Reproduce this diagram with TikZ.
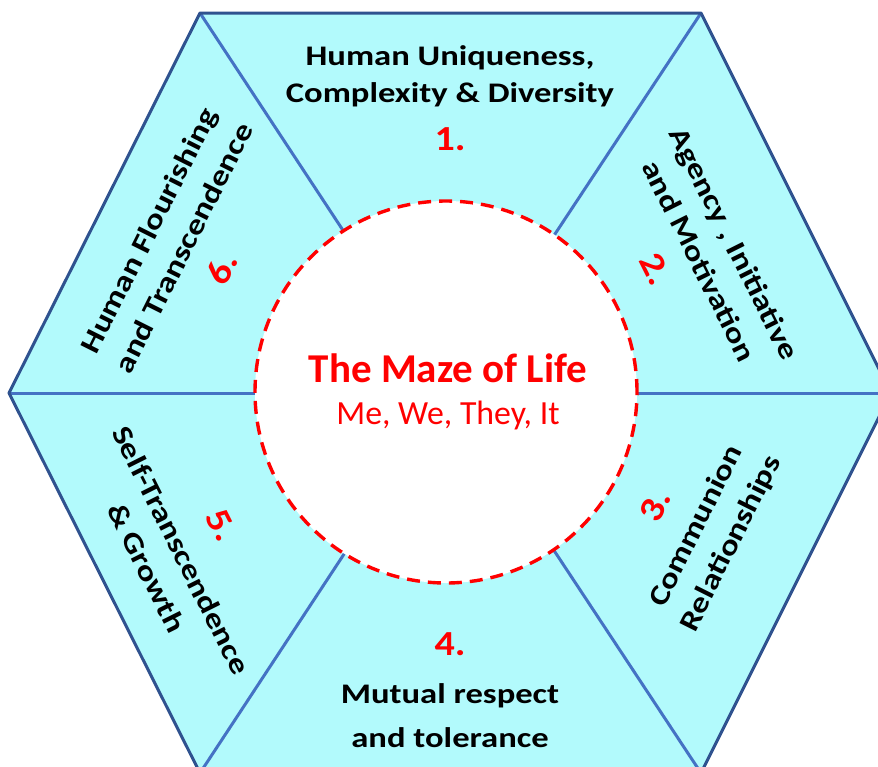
\documentclass[tikz,border=0pt]{standalone}
\usepackage{fontspec}
\setmainfont{Carlito}
\usepackage{xcolor}
\definecolor{segfill}{RGB}{178,250,252}
\definecolor{rimblue}{RGB}{47,82,143}
\definecolor{spokeblue}{RGB}{68,114,196}

\begin{document}
\begin{tikzpicture}[x=0.5pt,y=-0.5pt,line join=round,
    seg text/.style={font=\bfseries\fontsize{17.3}{23.8}\selectfont,align=center,rotate=#1,yscale=0.82},
    seg text/.default=0,
    seg num/.style={font=\bfseries\fontsize{20}{22}\selectfont,text=red,rotate=#1,yscale=0.88},
    seg num/.default=0,
    spoke/.style={draw=spokeblue,line width=1.5pt}]

            \useasboundingbox (0,0) rectangle (878,766);

            \coordinate (v1) at (200,13);
            \coordinate (v2) at (701,13);
            \coordinate (v3) at (891,393);
            \coordinate (v4) at (701,773);
            \coordinate (v5) at (200,773);
            \coordinate (v6) at (9,393);
            \coordinate (c) at (450,393);

            \fill[segfill] (v1) -- (v2) -- (v3) -- (v4) -- (v5) -- (v6) -- cycle;

            \path[spoke]
                (c) edge (v1)
                (c) edge (v2)
                (c) edge (v3)
                (c) edge (v4)
                (c) edge (v5)
                (c) edge (v6)
            ;

            \node[circle,fill=white,draw=red,line width=1.7pt,dash pattern=on 6.5pt off 4pt,minimum size=191pt,inner sep=0pt] (maze) at (446,392) {};

            \draw[rimblue,line width=1.5pt] (v1) -- (v2) -- (v3) -- (v4) -- (v5) -- (v6) -- cycle;

            \node[seg text,font=\bfseries\fontsize{17.3}{22.6}\selectfont] (1) at (450,76) {Human Uniqueness,\\Complexity \& Diversity};
            \node[seg num] (1n) at (450,139) {1.};

            \node[seg text=-63.4] (2) at (717,252) {Agency , Initiative\\and Motivation};
            \node[seg num=-63.4] (2n) at (656,269) {2.};

            \node[seg text=63.4] (3) at (714,535) {Communion\\Relationships};
            \node[seg num=63.4] (3n) at (655,506) {3.};

            \node[seg num] (4n) at (450,644) {4.};
            \node[seg text,font=\bfseries\fontsize{17.3}{26.8}\selectfont] (4) at (450,716) {Mutual respect\\and tolerance};

            \node[seg text=-63.4] (5) at (164,559) {Self-Transcendence\\\& Growth};
            \node[seg num=-63.4] (5n) at (222,525) {5.};

            \node[seg text=63.4] (6) at (166,239) {Human Flourishing\\and Transcendence};
            \node[seg num=63.4] (6n) at (222,268) {6.};

            \node[font=\bfseries\fontsize{20.5}{24}\selectfont,text=red,anchor=base] (title) at (448,382) {The Maze of Life};
            \node[font=\fontsize{16.9}{19}\selectfont,text=red,anchor=base] (sub) at (448,424) {Me, We, They, It};
        \end{tikzpicture}
\end{document}
